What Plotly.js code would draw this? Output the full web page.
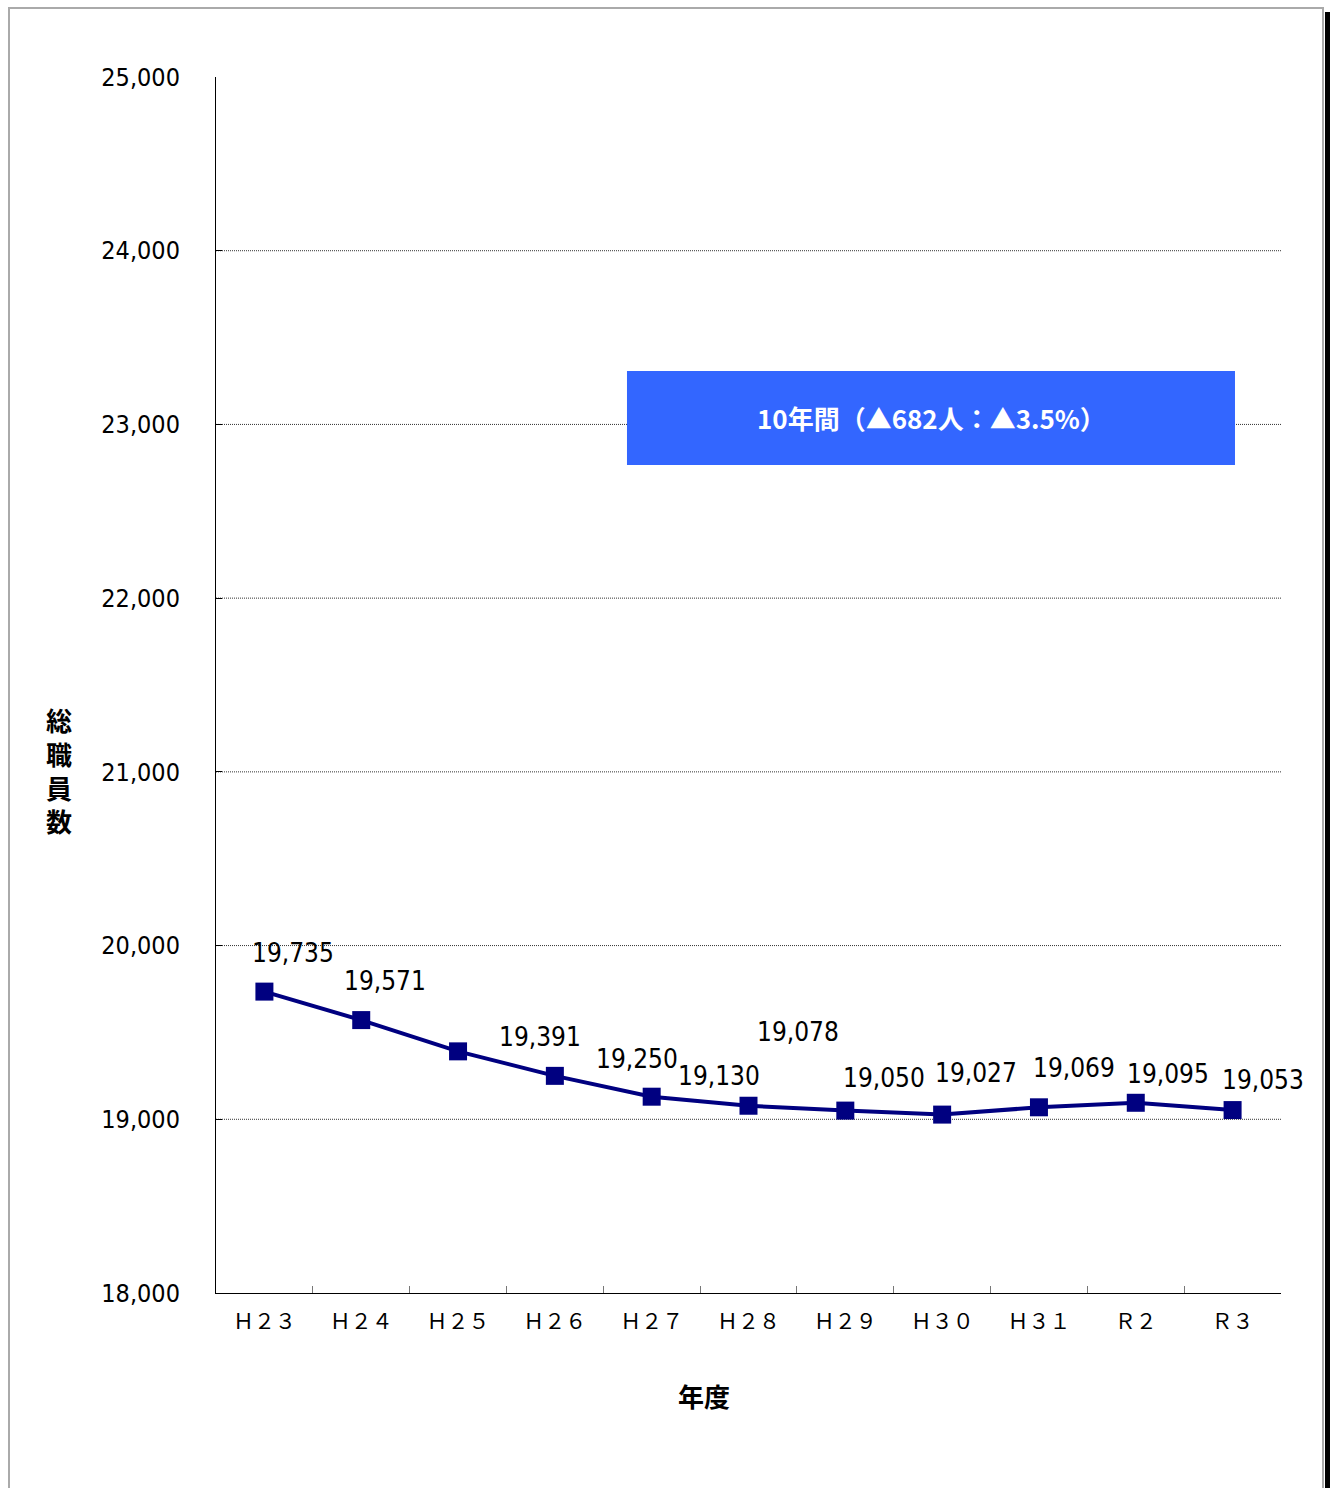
<!DOCTYPE html>
<html>
<head>
<meta charset="utf-8">
<script src="https://cdn.plot.ly/plotly-3.0.1.min.js"></script>
<style>
  html, body { margin: 0; padding: 0; background: #fff; }
  #wrap { position: relative; width: 1332px; height: 1488px; overflow: hidden; }
  #chart { position: absolute; left: 0; top: 0; width: 1332px; height: 1488px; }
  #frame { position: absolute; left: 8px; top: 7px; width: 1316px; height: 1500px;
           border-top: 2px solid #aaa; border-left: 2px solid #aaa; border-right: 2px solid #aaa;
           pointer-events: none; box-sizing: border-box; }
  #shadow { position: absolute; left: 1325px; top: 12px; width: 5px; height: 1480px; background: #000; pointer-events: none; }
</style>
</head>
<body>
<div id="wrap">
  <div id="chart"></div>
  <div id="frame"></div>
  <div id="shadow"></div>
</div>
<script>
// ---- data ----
const categories = ['Ｈ２３','Ｈ２４','Ｈ２５','Ｈ２６','Ｈ２７','Ｈ２８','Ｈ２９','Ｈ３０','Ｈ３１','Ｒ２','Ｒ３'];
const staffCounts = [19735, 19571, 19391, 19250, 19130, 19078, 19050, 19027, 19069, 19095, 19053];
const yTickValues = [18000, 19000, 20000, 21000, 22000, 23000, 24000, 25000];
const gridValues = [19000, 20000, 21000, 22000, 23000, 24000];
const xAxisTitle = '年度';
const yAxisTitle = '総職員数';

// ---- label placement (pixel offsets, style only) ----
const labelShiftX = [29, 24, 82, 82, 67, 49, 39, 34, 35, 32, 30];
const labelShiftY = [39, 39, 14, 17, 21, 74, 33, 42, 39, 29, 30];

const numFont = 'DejaVu Sans Condensed, Liberation Sans Narrow, sans-serif';
const jpFont = 'Noto Sans CJK JP, sans-serif';

const first = staffCounts[0], last = staffCounts[staffCounts.length - 1];
const diff = first - last;
const pct = (diff / first * 100).toFixed(1);
const summaryText = (staffCounts.length - 1) + '年間（▲' + diff + '人：▲' + pct + '%）';

const trace = {
  type: 'scatter',
  mode: 'lines+markers',
  x: categories,
  y: staffCounts,
  line: { color: '#000080', width: 4 },
  marker: { symbol: 'square', size: 18, color: '#000080' },
  hoverinfo: 'x+y'
};

const annotations = staffCounts.map((v, i) => ({
  x: categories[i], y: v, xref: 'x', yref: 'y',
  text: v.toLocaleString('en-US'),
  showarrow: false,
  xshift: labelShiftX[i], yshift: labelShiftY[i],
  font: { family: numFont, size: 26, color: '#000' }
}));

annotations.push({
  xref: 'paper', yref: 'paper', x: 0.6714, y: 0.7196,
  xanchor: 'center', yanchor: 'middle',
  text: summaryText, showarrow: false,
  font: { family: jpFont, size: 26, color: '#fff', weight: 'bold' }
});
annotations.push({
  xref: 'paper', yref: 'paper', x: -0.1474, y: 0.43,
  xanchor: 'center', yanchor: 'middle',
  text: yAxisTitle.split('').join('<br>'), showarrow: false,
  font: { family: jpFont, size: 26, color: '#000', weight: 'bold' }
});
annotations.push({
  xref: 'paper', yref: 'paper', x: 0.458, y: -0.0839,
  xanchor: 'center', yanchor: 'middle',
  text: xAxisTitle, showarrow: false,
  font: { family: jpFont, size: 26, color: '#000', weight: 'bold' }
});

const shapes = gridValues.map(g => ({
  type: 'line', xref: 'paper', yref: 'y', x0: 0, x1: 1, y0: g, y1: g,
  layer: 'below',
  line: { color: '#333', width: 1, dash: '1px,1px' }
}));
shapes.push({
  type: 'rect', xref: 'paper', yref: 'paper',
  x0: 0.3859, x1: 0.9568, y0: 0.6809, y1: 0.7582,
  fillcolor: '#3366FF', line: { width: 0 }, layer: 'above'
});

const layout = {
  width: 1332, height: 1488, autosize: false,
  margin: { l: 216, r: 51, t: 77, b: 195 },
  paper_bgcolor: 'rgba(0,0,0,0)', plot_bgcolor: 'rgba(0,0,0,0)',
  showlegend: false,
  xaxis: {
    type: 'category', range: [-0.5, 10.5],
    tickson: 'boundaries', ticks: 'inside', ticklen: 7, tickcolor: '#777', tickwidth: 1,
    showline: true, linecolor: '#000', linewidth: 1,
    showgrid: false, zeroline: false,
    tickfont: { family: jpFont, size: 21, color: '#000' },
    ticklabelstandoff: 10,
    fixedrange: true
  },
  yaxis: {
    range: [18000, 25000], tickvals: yTickValues, tickformat: ',d',
    ticks: 'inside', ticklen: 6, tickcolor: '#000', tickwidth: 1,
    showline: true, linecolor: '#000', linewidth: 1,
    showgrid: false, zeroline: false,
    tickfont: { family: numFont, size: 25, color: '#000' },
    ticklabelstandoff: 30,
    fixedrange: true
  },
  annotations: annotations,
  shapes: shapes
};

Plotly.newPlot('chart', [trace], layout, { displayModeBar: false, staticPlot: true });
</script>
</body>
</html>
